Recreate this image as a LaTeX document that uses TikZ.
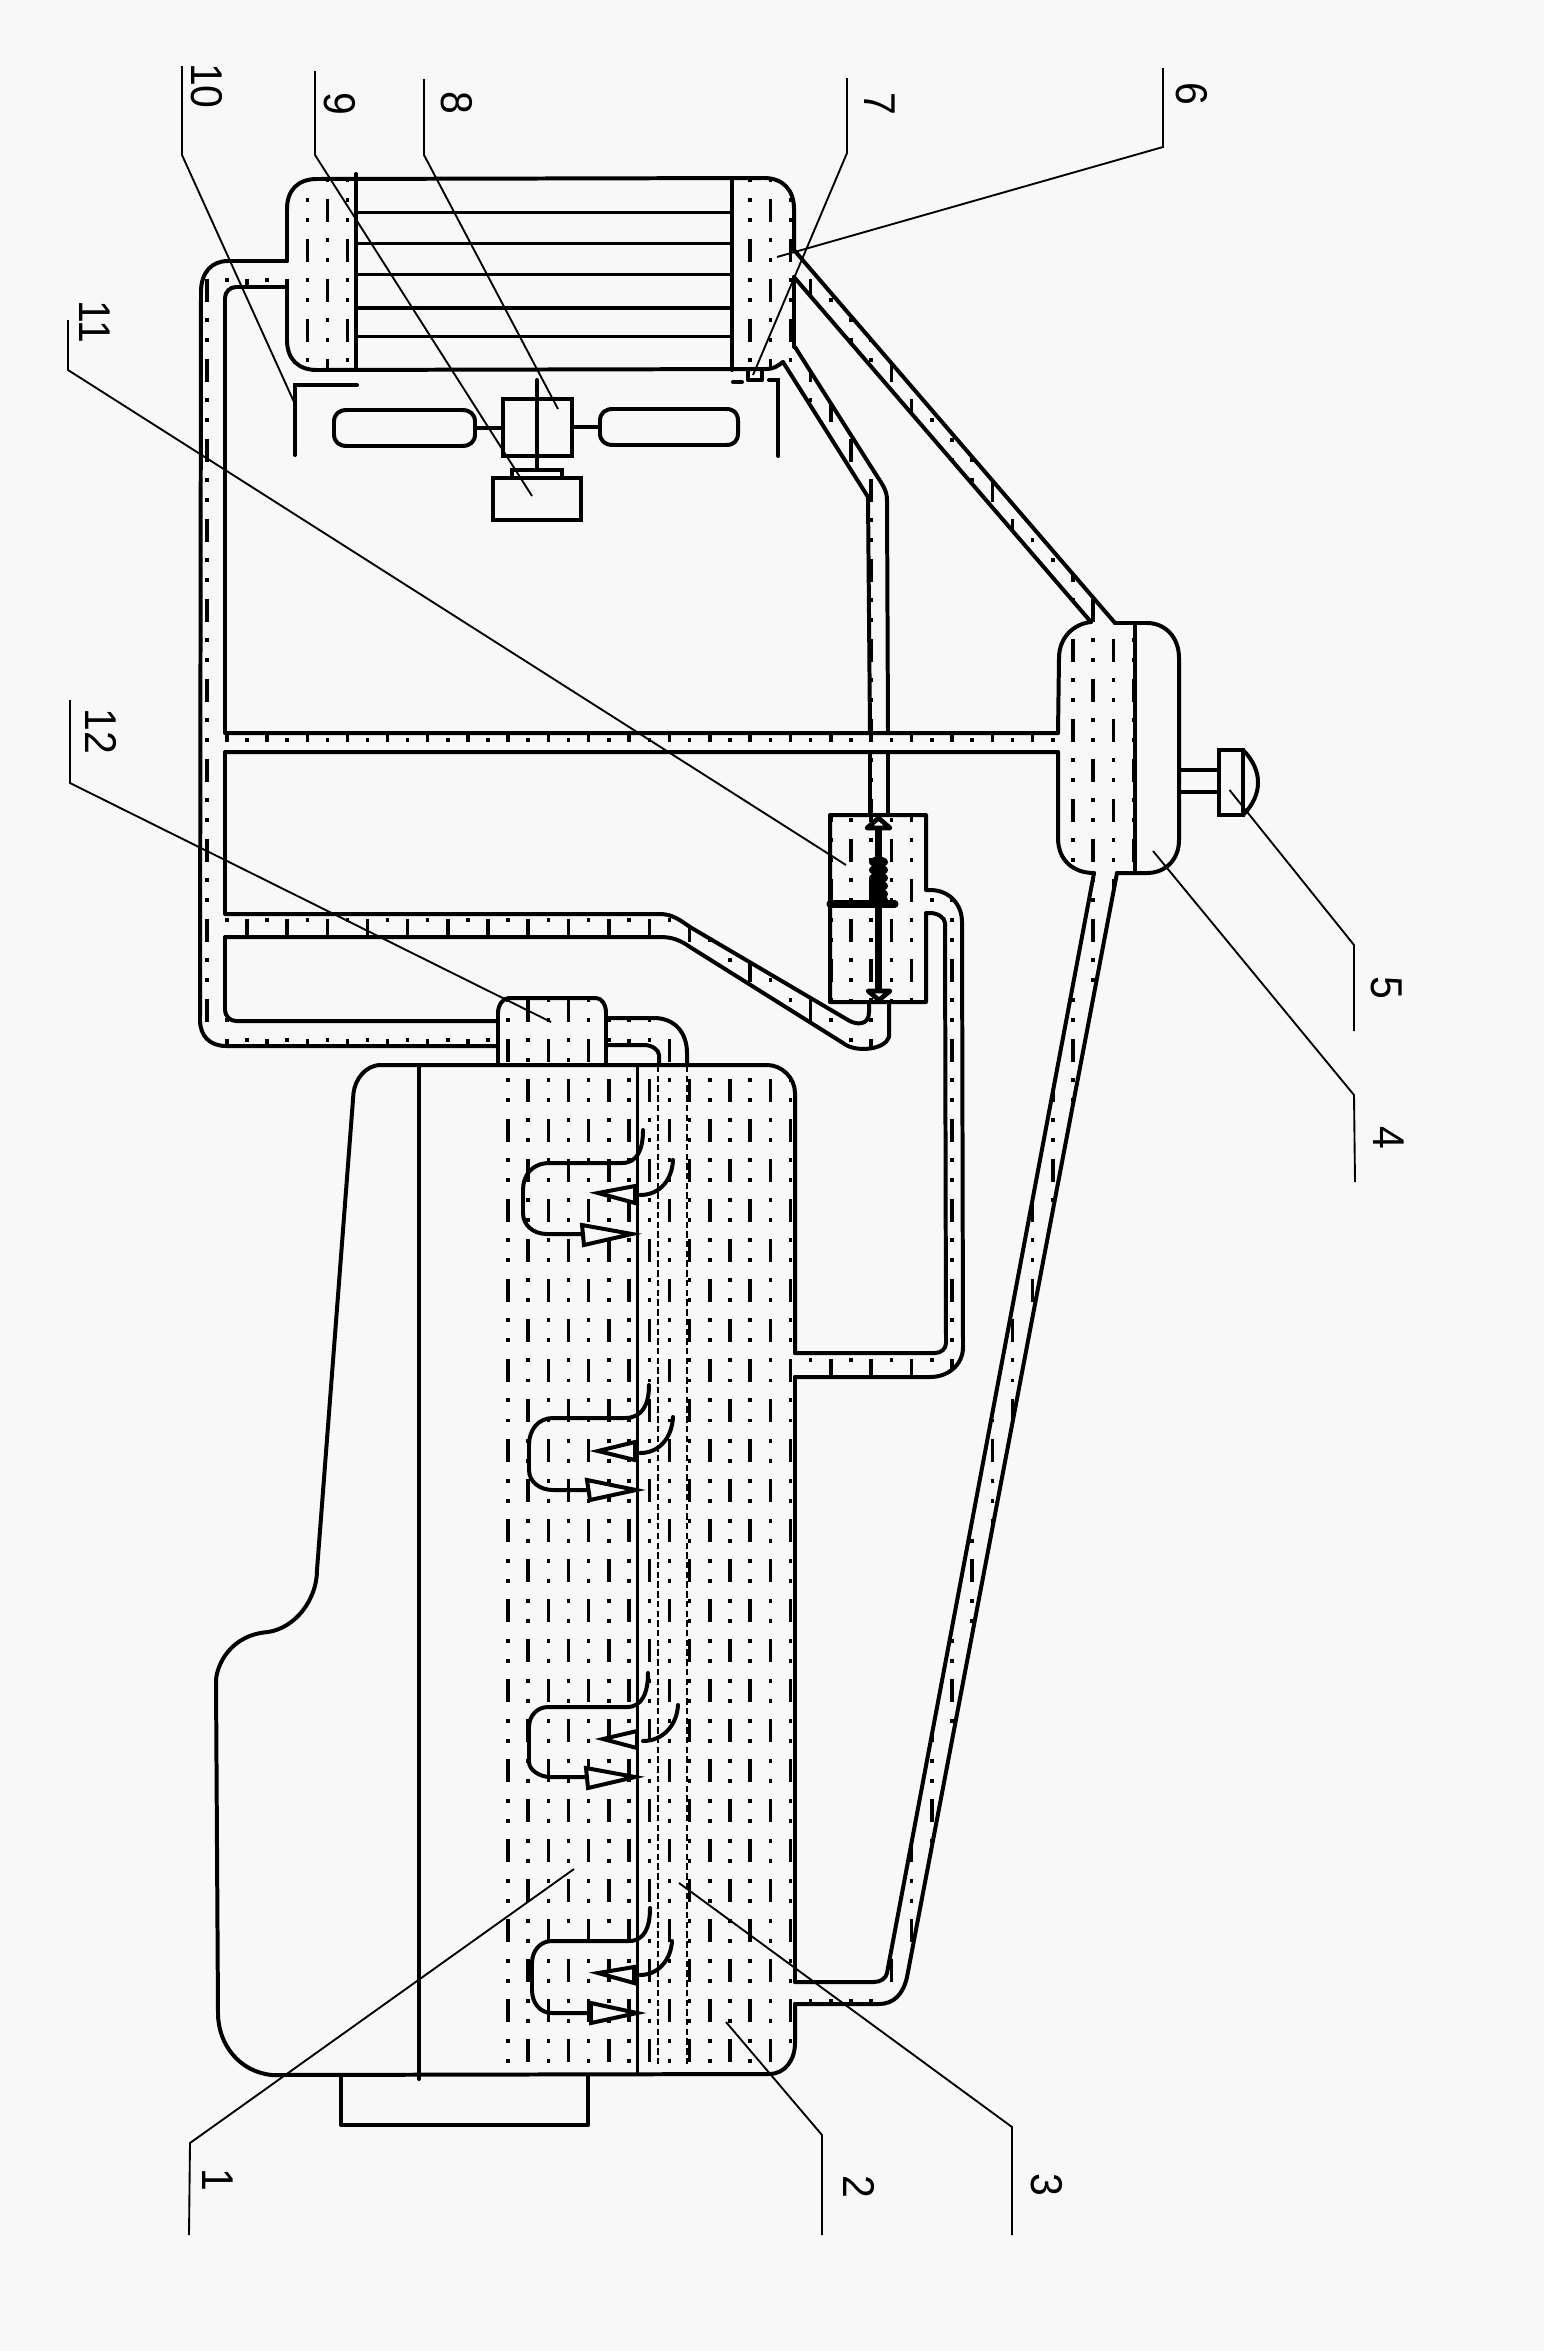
\documentclass[tikz,border=0pt]{standalone}
\usepackage{fontspec}
\setmainfont{Liberation Sans}
\definecolor{paper}{HTML}{F8F8F9}
\tikzset{
  wall/.style={line width=3.4pt,line cap=round,line join=round},
  leader/.style={line width=1.6pt,line join=miter},
  hatchcol/.style={line width=3pt,line cap=butt,dash pattern=on 19.63pt off 14.10pt on 3.4pt off 13.68pt on 3.4pt off 14.10pt},
  dashline/.style={line width=1.6pt,dash pattern=on 5.5pt off 2.8pt},
  lab/.style={rotate=-90,inner sep=0pt,font=\fontsize{38pt}{40pt}\selectfont}
}
\newcommand{\lbl}[3]{\node[lab] (#1) at (#2) {\scalebox{.92}[1]{#3}};}
\begin{document}
\begin{tikzpicture}[x=0.03cm,y=-0.03cm]
\useasboundingbox (0,0) rectangle (1544,2351);
\fill[paper] (0,0) rectangle (1544,2351);

% ---------- hatch, one global pattern clipped to the fluid regions
\begin{scope}
\clip
  (287,209) .. controls (287,190) and (298,179) .. (317,179) -- (356,179) -- (356,370) -- (317,370) .. controls (298,370) and (287,359) .. (287,340) -- cycle
  (732,179) -- (764,179) .. controls (783,179) and (797,190) .. (797,209) -- (797,347) -- (783,362) .. controls (778,366) and (773,369) .. (767,370) -- (732,370) -- cycle
  (498,1046) -- (226,1046) .. controls (210,1046) and (200,1036) .. (200,1020) -- (201,292) .. controls (201,272) and (212,261) .. (228,261) -- (287,261) -- (287,287) -- (236,287) .. controls (230,287) and (225,292) .. (225,298) -- (225,1010) .. controls (225,1016) and (230,1021) .. (236,1021) -- (498,1021) -- cycle
  (225,733) -- (1058,733) -- (1058,752) -- (225,752) -- cycle
  (225,914) -- (660,914) .. controls (672,914) and (680,920) .. (690,927) -- (848,1020) .. controls (856,1025) and (869,1026) .. (869,1012) -- (869,1002) -- (889,1002) -- (889,1037) .. controls (885,1050) and (855,1053) .. (843,1043) -- (690,947) .. controls (680,940) and (672,937) .. (660,937) -- (225,937) -- cycle
  (870,815) -- (868,497) -- (783,362) -- (795,347) -- (875,473) .. controls (882,484) and (887,490) .. (887,500) -- (887,815) -- cycle
  (794,250) -- (1115,623) -- (1091,622) -- (794,277) -- cycle
  (1094,873) -- (1117,873) -- (907,1977) .. controls (903,1995) and (893,2004) .. (879,2004) -- (795,2004) -- (795,1982) -- (874,1982) .. controls (881,1982) and (886,1978) .. (887,1973) -- cycle
  (926,890) -- (930,890) .. controls (950,890) and (962,905) .. (962,922) -- (963,1347) .. controls (963,1365) and (948,1377) .. (930,1377) -- (795,1377) -- (795,1353) -- (935,1353) .. controls (941,1353) and (946,1349) .. (946,1343) -- (945,923) .. controls (945,918) and (938,913) .. (930,913) -- (926,913) -- cycle
  (498,1065) -- (498,1013) .. controls (498,1005) and (503,998) .. (509,998) -- (596,998) .. controls (602,998) and (606,1005) .. (606,1013) -- (606,1065) -- cycle
  (606,1018) -- (654,1018) .. controls (675,1018) and (687,1033) .. (687,1053) -- (687,1065) -- (659,1065) -- (659,1055) .. controls (659,1050) and (652,1045) .. (644,1045) -- (606,1045) -- cycle
  (830,1002) -- (830,815) -- (926,815) -- (926,1002) -- cycle
  (1058,838) -- (1059,658) .. controls (1059,638) and (1073,624) .. (1091,622) -- (1137,623) -- (1137,873) -- (1094,873) .. controls (1073,873) and (1058,860) .. (1058,838) -- cycle
  (500,2074) -- (500,1065) -- (767,1065) .. controls (782,1065) and (797,1078) .. (797,1092) -- (797,2043) .. controls (797,2060) and (785,2074) .. (769,2074) -- cycle;
\foreach \i in {-15,-13,...,33}{
  \pgfmathsetmacro{\xc}{508+(\i<0?20.07:20.18)*\i}
  \draw[hatchcol] (\xc,118.5) -- (\xc,2100);}
\foreach \i in {-14,-12,...,32}{
  \pgfmathsetmacro{\xc}{508+(\i<0?20.07:20.18)*\i}
  \draw[hatchcol] (\xc,158.5) -- (\xc,2100);}
\end{scope}

% ---------- main tank
\draw[wall] (381,1065) -- (767,1065) .. controls (782,1065) and (795,1078) .. (795,1093) -- (795,1353);
\draw[wall] (795,1377) -- (795,1982);
\draw[wall] (795,2004) -- (795,2043) .. controls (795,2060) and (785,2074) .. (769,2074) -- (272,2075)
  .. controls (240,2072) and (218,2045) .. (218,2013) -- (216,1680) .. controls (217,1665) and (230,1635) .. (268,1632)
  .. controls (295,1628) and (317,1600) .. (317,1570) -- (353.5,1093) .. controls (355,1080) and (365,1065) .. (381,1065);
\draw[wall] (419,1065) -- (419,2079);
\draw[wall] (637.5,1065) -- (637.5,2074);
\draw[dashline] (658,1066) -- (658,2066);
\draw[dashline] (687,1066) -- (687,2066);
\draw[wall] (341,2075) -- (341,2125) -- (588,2125) -- (588,2075);

% ---------- return loops
\tikzset{tri/.style={wall,fill=paper,line join=miter}}
\draw[wall] (643,1130) .. controls (643,1150) and (637,1163) .. (622,1163) -- (550,1163) .. controls (532,1163) and (523,1175) .. (523,1190) -- (523,1213) .. controls (523,1225) and (533,1234) .. (547,1234) -- (582,1234);
\draw[tri] (582,1225) -- (632,1234) -- (584,1245) -- cycle;
\draw[wall] (673,1160) .. controls (672,1180) and (660,1195) .. (640,1195);
\draw[tri] (635,1186) -- (598,1193) -- (635,1203) -- cycle;

\draw[wall] (649,1385) .. controls (649,1405) and (642,1418) .. (625,1418) -- (553,1418) .. controls (538,1418) and (529,1430) .. (529,1445) -- (529,1470) .. controls (529,1482) and (540,1490) .. (553,1490) -- (588,1490);
\draw[tri] (587,1480) -- (636,1490) -- (590,1500) -- cycle;
\draw[wall] (673,1417) .. controls (672,1437) and (660,1453) .. (640,1453);
\draw[tri] (635,1442) -- (598,1451) -- (635,1460) -- cycle;

\draw[wall] (648,1673) .. controls (648,1693) and (642,1707) .. (627,1707) -- (548,1707) .. controls (537,1707) and (529,1716) .. (529,1727) -- (529,1762) .. controls (529,1770) and (540,1777) .. (550,1777) -- (586,1777);
\draw[tri] (586,1768) -- (635,1777) -- (588,1788) -- cycle;
\draw[wall] (678,1705) .. controls (677,1725) and (663,1741) .. (643,1741);
\draw[tri] (637,1731) -- (603,1739) -- (637,1748) -- cycle;

\draw[wall] (650,1908) .. controls (650,1928) and (644,1941) .. (629,1941) -- (552,1941) .. controls (540,1941) and (532,1951) .. (532,1963) -- (532,1990) .. controls (532,2003) and (540,2013) .. (552,2013) -- (588,2013);
\draw[tri] (591,2003) -- (637,2013) -- (591,2023) -- cycle;
\draw[wall] (672,1941) .. controls (671,1960) and (658,1975) .. (640,1975);
\draw[tri] (634,1967) -- (598,1973) -- (634,1983) -- cycle;

% ---------- radiator
\draw[wall] (794,250) -- (794,209) .. controls (794,190) and (783,178) .. (764,178) -- (317,179) .. controls (298,179) and (287,190) .. (287,209) -- (287,261);
\draw[wall] (287,287) -- (287,340) .. controls (287,359) and (298,370) .. (317,370) -- (767,369) .. controls (773,369) and (778,366) .. (783,362);
\draw[wall] (794,277) -- (794,347);
\draw[wall] (356,174) -- (356,370);
\draw[wall] (732,179) -- (732,370);
\foreach \yy in {212.5,243.5,274.5,308,336.5}{\draw[wall] (356,\yy) -- (732,\yy);}
\draw[wall] (748,370) -- (748,380) -- (762,380) -- (762,370);

% ---------- left pipe and branches
\draw[wall] (287,261) -- (228,261) .. controls (212,261) and (201,272) .. (201,292) -- (200,1020) .. controls (200,1036) and (210,1046) .. (226,1046) -- (498,1046);
\draw[wall] (287,287) -- (236,287) .. controls (230,287) and (225,292) .. (225,298) -- (225,733) -- (1058,733);
\draw[wall] (1058,752) -- (225,752) -- (225,914) -- (660,914) .. controls (672,914) and (680,920) .. (690,927) -- (848,1020) .. controls (856,1025) and (869,1026) .. (869,1012) -- (869,1002);
\draw[wall] (889,1002) -- (889,1037) .. controls (885,1050) and (855,1053) .. (843,1043) -- (690,947) .. controls (680,940) and (672,937) .. (660,937) -- (225,937) -- (225,1010) .. controls (225,1016) and (230,1021) .. (236,1021) -- (498,1021);

% ---------- box 12
\draw[wall] (498,1065) -- (498,1013) .. controls (498,1005) and (503,998) .. (509,998) -- (596,998) .. controls (602,998) and (606,1005) .. (606,1013) -- (606,1065);
\draw[wall] (606,1018) -- (654,1018) .. controls (675,1018) and (687,1033) .. (687,1053) -- (687,1065);
\draw[wall] (606,1045) -- (644,1045) .. controls (652,1045) and (659,1050) .. (659,1055) -- (659,1065);

% ---------- stem and upper pipe
\draw[wall] (870,733) -- (868,497) -- (783,362);
\draw[wall] (870,752) -- (870,815);
\draw[wall] (888,733) -- (887,500) .. controls (887,490) and (882,484) .. (875,473) -- (795,347);
\draw[wall] (888,752) -- (888,815);
\draw[wall] (794,250) -- (1115,623);
\draw[wall] (794,277) -- (1091,622);

% ---------- reservoir and handle
\draw[wall] (1115,623) -- (1147,623) .. controls (1165,623) and (1179,637) .. (1179,658) -- (1179,840) .. controls (1179,860) and (1165,873) .. (1147,873) -- (1117,873);
\draw[wall] (1091,622) .. controls (1073,624) and (1059,638) .. (1059,658) -- (1058,733);
\draw[wall] (1058,752) -- (1058,838) .. controls (1058,860) and (1073,873) .. (1094,873);
\draw[wall] (1135,623) -- (1135,873);
\draw[wall] (1179,770) -- (1219,770);
\draw[wall] (1179,792) -- (1219,792);
\draw[wall,line join=miter] (1219,750) rectangle (1243,815);
\draw[wall] (1243,750) .. controls (1263,770) and (1263,795) .. (1243,815);

% ---------- lower pipe
\draw[wall] (1094,873) -- (887,1973) .. controls (886,1978) and (881,1982) .. (874,1982) -- (795,1982);
\draw[wall] (1117,873) -- (907,1977) .. controls (903,1995) and (893,2004) .. (879,2004) -- (795,2004);

% ---------- valve
\draw[wall] (830,1002) -- (830,815) -- (926,815) -- (926,890) -- (930,890) .. controls (950,890) and (962,905) .. (962,922) -- (963,1347) .. controls (963,1365) and (948,1377) .. (930,1377) -- (795,1377);
\draw[wall] (795,1353) -- (935,1353) .. controls (941,1353) and (946,1349) .. (946,1343) -- (945,923) .. controls (945,918) and (938,913) .. (930,913) -- (926,913) -- (926,1002) -- (830,1002);
\draw[line width=6pt] (878.5,828) -- (878.5,991);
\draw[line width=4pt,fill=paper,line join=round] (878.5,818) -- (867,828) -- (890,828) -- cycle;
\draw[line width=4pt,fill=paper,line join=round] (868,991) -- (890,991) -- (879,1000) -- cycle;
\foreach \yy in {862,870,878,886,894,900}{\fill (878.5,\yy) ellipse (9.5 and 5.5);}
\draw[line width=6pt,line cap=round] (830,904) -- (895,904);

% ---------- fan and motor
\draw[wall] (334,422) .. controls (334,414) and (339,410) .. (347,410) -- (462,410) .. controls (470,410) and (475,414) .. (475,422) -- (475,434) .. controls (475,442) and (470,446) .. (462,446) -- (347,446) .. controls (339,446) and (334,442) .. (334,434) -- cycle;
\draw[wall] (600,421) .. controls (600,413) and (605,409) .. (613,409) -- (726,409) .. controls (734,409) and (738,413) .. (738,421) -- (738,433) .. controls (738,441) and (734,445) .. (726,445) -- (613,445) .. controls (605,445) and (600,441) .. (600,433) -- cycle;
\draw[wall] (475,428) -- (503,428);
\draw[wall] (572,427) -- (600,427);
\draw[wall,line join=miter] (503,399) rectangle (572,456);
\draw[wall] (537,380) -- (537,470);
\draw[wall,line join=miter] (512,478) -- (512,470) -- (562,470) -- (562,478);
\draw[wall,line join=miter] (493,478) rectangle (581,520);
\draw[wall,line join=miter] (357,385) -- (295,385) -- (295,455);
\draw[wall] (733,382) -- (742,382);
\draw[wall,line join=miter] (769,380) -- (778,380) -- (778,456);

% ---------- leaders
\draw[leader] (182,66) -- (182,155) -- (294,402);
\draw[leader] (315,71) -- (315,155) -- (532,496);
\draw[leader] (424,79) -- (424,155) -- (558,409);
\draw[leader] (847,78) -- (847,153) -- (753,375);
\draw[leader] (1163,68) -- (1163,147) -- (777,257);
\draw[leader] (68,320) -- (68,370) -- (846,865);
\draw[leader] (70,700) -- (70,783) -- (551,1022);
\draw[leader] (1229.5,790) -- (1354,945) -- (1354,1031);
\draw[leader] (1153,851) -- (1354,1095) -- (1355,1182);
\draw[leader] (189,2235) -- (190,2143) -- (574,1869);
\draw[leader] (822,2235) -- (822,2135) -- (726,2022);
\draw[leader] (1012,2235) -- (1012,2127) -- (679,1883);

% ---------- labels
\lbl{L10}{207,86}{10}
\lbl{L9}{340,104}{9}
\lbl{L8}{457,103}{8}
\lbl{L7}{880,104}{7}
\lbl{L6}{1192,94}{6}
\lbl{L11}{95,322}{11}
\lbl{L12}{101,731}{12}
\lbl{L5}{1387,988}{5}
\lbl{L4}{1389,1138}{4}
\lbl{L1}{218,2180}{1}
\lbl{L2}{859,2187}{2}
\lbl{L3}{1047,2185}{3}
\end{tikzpicture}
\end{document}
